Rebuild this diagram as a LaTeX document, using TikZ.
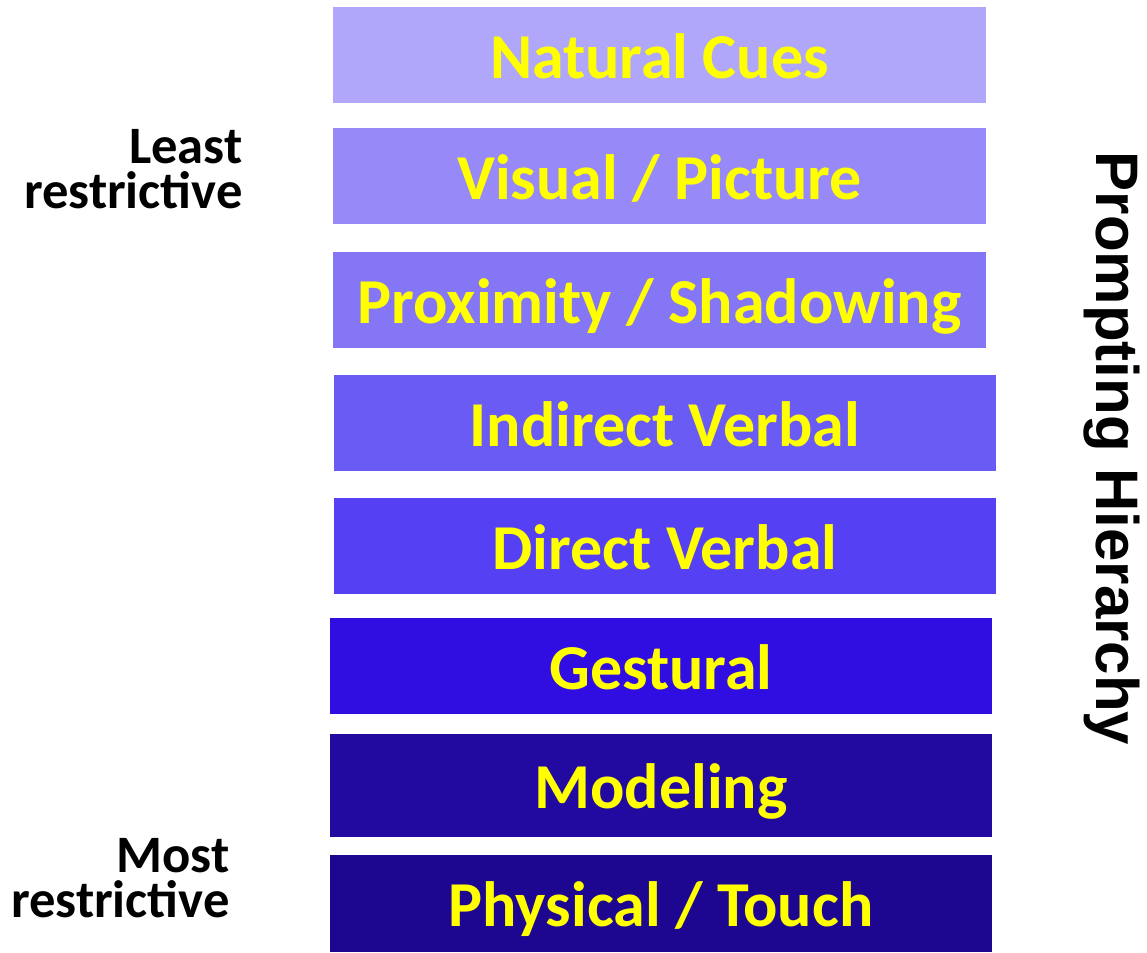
\documentclass[tikz,border=0pt]{standalone}
\usepackage{fontspec}
\setmainfont{Carlito}
\newfontfamily\titlefont{Liberation Sans}

\definecolor{lvlA}{HTML}{B0A7FA}
\definecolor{lvlB}{HTML}{9789F7}
\definecolor{lvlC}{HTML}{8476F5}
\definecolor{lvlD}{HTML}{6B5BF5}
\definecolor{lvlE}{HTML}{5541F3}
\definecolor{lvlF}{HTML}{300DE0}
\definecolor{lvlG}{HTML}{2209A0}
\definecolor{lvlH}{HTML}{1D0690}
\definecolor{cueyellow}{HTML}{FFFF00}

\tikzset{
  level/.style={rectangle, fill=#1, inner sep=0pt, minimum height=48pt,
    text=cueyellow, font=\bfseries\fontsize{32}{32}\selectfont,
    text height=24pt, text depth=1pt},
  sidelabel/.style={inner sep=0pt, align=right, anchor=east,
    font=\bfseries\fontsize{26.3}{22.3}\selectfont},
}

\begin{document}
\begin{tikzpicture}[x=0.5pt, y=-0.5pt]
\useasboundingbox (0,0) rectangle (1147,953);
\node[level=lvlA, minimum width=326.5pt] (natural) at (659.5,55) {Natural Cues};
\node[level=lvlB, minimum width=326.5pt] (visual) at (659.5,176) {Visual / Picture};
\node[level=lvlC, minimum width=326.5pt] (proximity) at (659.5,300) {Proximity / Shadowing};
\node[level=lvlD, minimum width=331pt] (indirect) at (665,423) {Indirect Verbal};
\node[level=lvlE, minimum width=331pt] (direct) at (665,546) {Direct Verbal};
\node[level=lvlF, minimum width=331pt] (gestural) at (661,666) {Gestural};
\node[level=lvlG, minimum width=331pt, minimum height=51.5pt] (modeling) at (661,785.5) {Modeling};
\node[level=lvlH, minimum width=331pt, minimum height=48.5pt] (physical) at (661,903.5) {Physical / Touch};

\node[sidelabel] (least) at (243,169) {Least\\restrictive};
\node[sidelabel] (most) at (230,878) {Most\\restrictive};

\node[rotate=-90, font=\titlefont\bfseries\fontsize{30}{30}\selectfont] (title) at (1112,448.5) {Prompting Hierarchy};
\end{tikzpicture}
\end{document}
